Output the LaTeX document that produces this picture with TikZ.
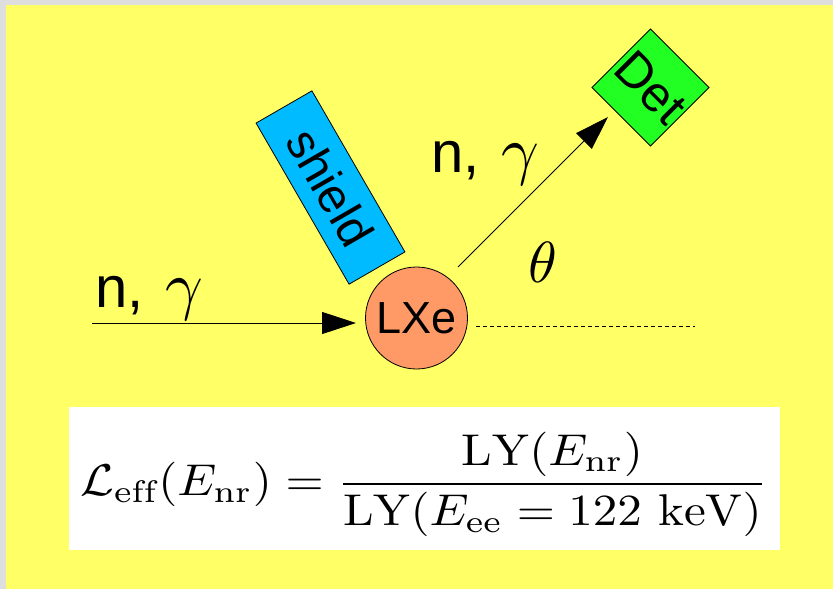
\documentclass[tikz,border=0pt]{standalone}
\usepackage{amsmath}
\usepackage{fontspec}
\newfontfamily\lblsans{Liberation Sans}
\usetikzlibrary{arrows.meta}
\definecolor{bgGray}{HTML}{DEDEDE}
\definecolor{bgYellow}{HTML}{FFFF66}
\definecolor{cLXe}{HTML}{FF9966}
\definecolor{cShield}{HTML}{00BBFF}
\definecolor{cDet}{HTML}{22FF22}
\definecolor{nInk}{HTML}{000000}
\newcommand{\bigmath}[2][5.8]{\scalebox{#1}{\normalsize$#2$}}
\tikzset{
  beam/.style={-{Triangle[length=34pt,width=22pt]}, line width=0.9pt, draw=nInk},
  axisline/.style={line width=0.8pt, dash pattern=on 4pt off 3pt, draw=nInk},
  partlbl/.style={inner sep=0pt, anchor=base west, text=nInk,
    font=\lblsans\fontsize{58}{60}\selectfont},
  anglbl/.style={inner sep=0pt, text=nInk},
}
\tikzset{
  target/.style={circle, draw=nInk, line width=0.8pt, fill=cLXe, minimum size=102pt,
    inner sep=0pt, font=\lblsans\fontsize{45}{47}\selectfont},
  shieldbox/.style={draw=nInk, line width=0.8pt, fill=cShield, rotate=-60,
    minimum width=186pt, minimum height=64.5pt, inner sep=0pt,
    font=\lblsans\fontsize{48}{50}\selectfont},
  detbox/.style={draw=nInk, line width=0.8pt, fill=cDet, rotate=-45,
    minimum size=82.7pt, inner sep=0pt, font=\lblsans\fontsize{50}{52}\selectfont},
  fmlbox/.style={fill=white, minimum width=711pt, minimum height=143pt, inner sep=0pt},
  fml/.style={inner sep=0pt},
}

\begin{document}
\begin{tikzpicture}[x=1pt, y=-1pt]
  % page: gray rim, yellow sheet
  \fill[bgGray] (0,0) rectangle (833,589);
  \fill[bgYellow] (6,5) rectangle (833,589);
  \useasboundingbox (0,0) rectangle (833,589);

  % target, shield, detector
  \node[target] (lxe) at (416.5,318) {LXe};
  \node[shieldbox] (shield) at (330.5,187.5) {shield};
  \node[detbox] (det) at (650.5,87.5) {Det};

  % beam in, scattered beam out, reference axis
  \coordinate (src) at (92,323);
  \coordinate (hitin) at (356,323);
  \coordinate (hitout) at (458,267);
  \coordinate (todet) at (608,117);
  \coordinate (axs) at (476,326);
  \coordinate (axe) at (695,326);
  \draw[beam] (src) -- (hitin);
  \draw[beam] (hitout) -- (todet);
  \draw[axisline] (axs) -- (axe);

  \node[partlbl] (inlbl) at (95,307) {n,\hspace{22pt}\bigmath[6.6]{\gamma}};
  \node[partlbl] (outlbl) at (431,172) {n,\hspace{22pt}\bigmath[6.6]{\gamma}};
  \node[anglbl] (theta) at (543,262) {\bigmath{\theta}};

  % definition of Leff
  \node[fmlbox] (fmlbg) at (424.5,478.5) {};
  \node[fml] (leff) at (424,484.5) {\scalebox{4.9}[4.45]{$\displaystyle
    \mathcal{L}_{\mathrm{eff}}(E_{\mathrm{nr}}) =
    \frac{\mathrm{LY}(E_{\mathrm{nr}})}{\mathrm{LY}(E_{\mathrm{ee}} = 122\ \mathrm{keV})}$}};
\end{tikzpicture}
\end{document}
